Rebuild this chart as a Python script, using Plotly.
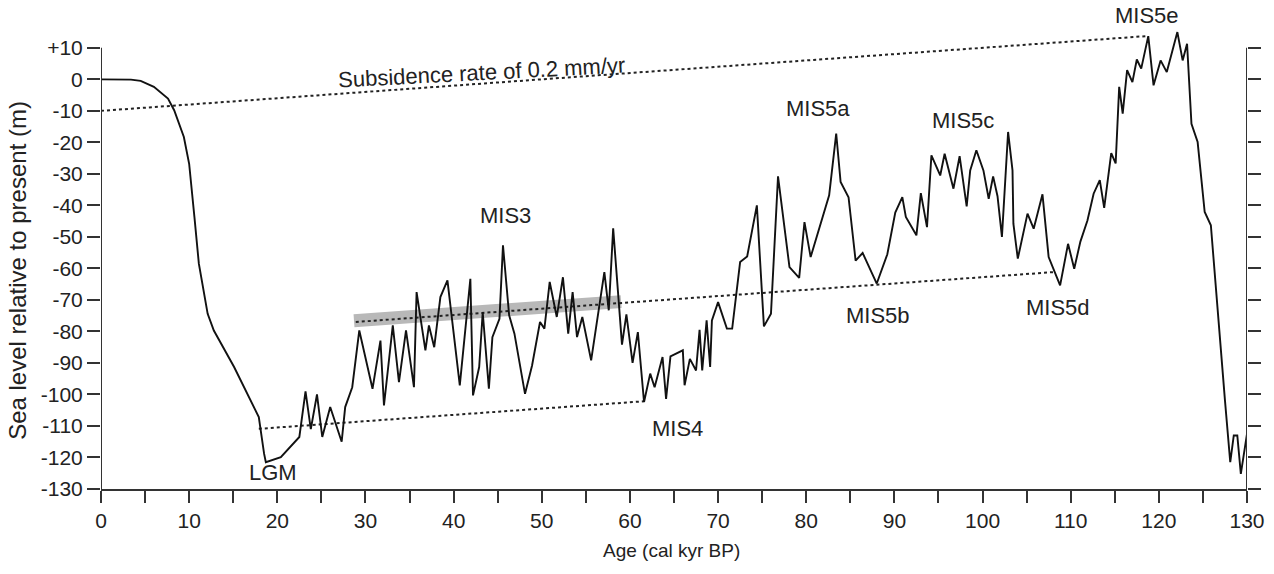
import plotly.graph_objects as go

# Relative sea level reconstruction (cal kyr BP vs. metres relative to present)
age_kyr = [
    0, 2, 3.4, 4.5, 6.0, 7.6, 8.3, 9.4, 10.0, 10.6, 11.1, 12.1, 12.8, 15.1, 16.6,
    17.9, 18.5, 18.7, 20.4, 22.5, 23.2, 23.8, 24.5, 25.1, 26.0, 27.3, 27.7, 28.5,
    29.3, 30.8, 31.7, 32.1, 33.1, 33.8, 34.6, 35.5, 35.8, 36.8, 37.2, 37.8, 38.5,
    39.3, 40.7, 41.9, 42.2, 42.9, 43.3, 44.0, 44.4, 45.2, 45.6, 46.3, 46.9, 48.1,
    48.9, 49.8, 50.3, 50.9, 51.7, 52.4, 53.0, 53.5, 54.0, 54.6, 55.6, 57.1, 57.6,
    58.1, 59.1, 59.6, 60.3, 60.9, 61.6, 62.3, 62.8, 63.7, 64.1, 64.6, 66.0, 66.2,
    66.8, 67.5, 67.9, 68.2, 68.7, 69.1, 69.3, 70.0, 71.0, 71.6, 72.5, 73.3, 74.4,
    75.2, 76.0, 76.8, 78.1, 79.2, 79.8, 80.5, 82.6, 83.4, 83.9, 84.8, 85.6, 86.4,
    88.0, 89.2, 90.1, 90.9, 91.3, 92.5, 93.0, 93.7, 94.2, 95.2, 95.7, 96.7, 97.4,
    98.2, 98.6, 99.3, 100.1, 100.7, 101.2, 101.7, 102.2, 102.9, 103.4, 103.5, 104.0,
    105.1, 105.8, 106.8, 107.5, 108.8, 109.7, 110.4, 111.1, 111.9, 112.6, 113.3,
    113.8, 114.6, 115.1, 115.5, 115.9, 116.4, 117.0, 117.5, 118.0, 118.8, 119.4,
    120.2, 120.9, 122.1, 122.7, 123.2, 123.7, 124.4, 125.2, 125.9, 127.5, 128.1,
    128.5, 128.9, 129.3, 130.0,
]
sea_level_m = [
    0, 0, -0.1, -0.5, -2.4, -6.1, -9.8, -18.3, -26.8, -43.7, -58.5, -74.4, -79.7,
    -91.3, -100, -107.2, -118.8, -121.5, -119.9, -113.5, -99, -111, -100, -113.5,
    -104, -115, -104, -97.7, -79.7, -98.2, -82.9, -103.5, -78.1, -96.1, -79.7,
    -97.7, -67.5, -86, -78.1, -85, -69.1, -63.8, -97.1, -63.3, -100.3, -91.3,
    -73.9, -98.2, -81.8, -76, -52.7, -74.9, -80.7, -99.8, -90.8, -77, -79.1,
    -64.3, -75.4, -62.8, -80.7, -67.5, -81.8, -75.4, -89.2, -61.2, -73.3, -47.3,
    -84.2, -74.6, -90, -80.2, -102.4, -93.4, -97.7, -88.1, -101.4, -87.9, -86,
    -97.1, -88.7, -92.4, -79.5, -92.4, -76.5, -91.3, -76.5, -70.7, -79.1, -79.1,
    -58, -56.2, -40, -78.4, -74.4, -30.8, -59.6, -63, -45.3, -56.4, -36.8, -17.2,
    -32.6, -37.4, -57.5, -55.1, -64.8, -55.5, -42.3, -37.4, -43.7, -49.5, -36.1,
    -46.9, -24.1, -30.5, -23.6, -34.7, -24.4, -40.3, -28.9, -22.5, -28.9, -37.9,
    -30.8, -37.1, -50, -16.7, -28.9, -45.8, -56.9, -42.6, -47.4, -36.5, -56.4,
    -65.4, -52.2, -60.1, -51.5, -44.8, -36.3, -32, -40.8, -23.4, -26.7, -2.4,
    -10.9, 2.9, -0.9, 6.3, 3.4, 13.7, -1.9, 6, 2.3, 15, 6, 11.3, -14.1, -19.9,
    -42.1, -46.3, -101.9, -121.5, -113, -113, -125.2, -112.5,
]

# Subsidence reference lines (0.2 m per kyr)
subsidence_age = [0, 118.8]
subsidence_level = [-10, 13.76]
lgm_trend_age = [17.9, 61.6]
lgm_trend_level = [-110.9, -102.16]
mis3_trend_age = [28.9, 108.3]
mis3_trend_level = [-77.0, -61.12]
# Shaded MIS3 envelope
mis3_band_age = [28.7, 59.0]
mis3_band_level = [-76.6, -70.54]

# Stage labels
stage_labels = ["LGM", "MIS3", "MIS4", "MIS5a", "MIS5b", "MIS5c", "MIS5d", "MIS5e"]
stage_age = [19.5, 45.9, 65.4, 81.3, 88.1, 97.8, 108.6, 118.7]
stage_level = [-124.7, -43.1, -110.7, -9.2, -74.9, -13.0, -72.3, 20.3]

x_ticks = list(range(0, 131, 5))
x_tick_text = [str(v) if v % 10 == 0 else "" for v in x_ticks]
y_ticks = list(range(-130, 11, 10))
y_tick_text = ["+10" if v == 10 else str(v) for v in y_ticks]

INK = "#222222"
AXIS = "#333333"
FONT = "Liberation Sans, Arial, sans-serif"
DOTS = "3px,3px"

fig = go.Figure()

fig.add_trace(go.Scatter(
    x=mis3_band_age, y=mis3_band_level, mode="lines",
    line=dict(color="#b8b8b8", width=13), hoverinfo="skip", showlegend=False,
))
for xs, ys in [(subsidence_age, subsidence_level),
               (lgm_trend_age, lgm_trend_level),
               (mis3_trend_age, mis3_trend_level)]:
    fig.add_trace(go.Scatter(
        x=xs, y=ys, mode="lines",
        line=dict(color=INK, width=2, dash=DOTS), hoverinfo="skip", showlegend=False,
    ))

fig.add_trace(go.Scatter(
    x=age_kyr, y=sea_level_m, mode="lines",
    line=dict(color="#111111", width=1.9), showlegend=False,
    cliponaxis=False,
))

# Carrier for the right-hand tick axis
fig.add_trace(go.Scatter(
    x=[0, 130], y=[-130, 10], mode="markers", marker=dict(opacity=0),
    yaxis="y2", hoverinfo="skip", showlegend=False,
))

annotations = []
for name, ax_, ay_ in zip(stage_labels, stage_age, stage_level):
    annotations.append(dict(
        x=ax_, y=ay_, xref="x", yref="y", text=name, showarrow=False,
        xanchor="center", yanchor="middle",
        font=dict(family=FONT, size=22, color=INK),
    ))
annotations.append(dict(
    x=43.2, y=2.2, xref="x", yref="y", text="Subsidence rate of 0.2 mm/yr",
    showarrow=False, textangle=-3, xanchor="center", yanchor="middle",
    font=dict(family=FONT, size=22, color=INK),
))
annotations.append(dict(
    x=0.498, y=-0.129, xref="paper", yref="paper", text="Age (cal kyr BP)",
    showarrow=False, xanchor="center", yanchor="middle",
    font=dict(family=FONT, size=19, color=INK),
))
annotations.append(dict(
    x=-0.0735, y=0.457, xref="paper", yref="paper",
    text="Sea level relative to present (m)", textangle=-90,
    showarrow=False, xanchor="center", yanchor="middle",
    font=dict(family=FONT, size=24, color=INK),
))

shapes = [
    dict(type="line", xref="x", yref="y", x0=0, x1=0, y0=-130, y1=10,
         line=dict(color=AXIS, width=2)),
    dict(type="line", xref="x", yref="y", x0=130, x1=130, y0=-130, y1=10,
         line=dict(color=AXIS, width=2)),
]

y_range = [-130, 22]

fig.update_layout(
    width=1274, height=574,
    margin=dict(l=101, r=27, t=10, b=85),
    paper_bgcolor="white", plot_bgcolor="white",
    font=dict(family=FONT, color=INK),
    annotations=annotations, shapes=shapes,
    xaxis=dict(
        range=[0, 130], tickvals=x_ticks, ticktext=x_tick_text,
        ticks="outside", ticklen=12, tickwidth=1.5, tickcolor=AXIS,
        showline=True, linecolor=AXIS, linewidth=2,
        showgrid=False, zeroline=False,
        tickfont=dict(family=FONT, size=21, color=INK),
    ),
    yaxis=dict(
        range=y_range, tickvals=y_ticks, ticktext=y_tick_text,
        ticks="outside", ticklen=13, tickwidth=1.5, tickcolor=AXIS,
        showline=False, showgrid=False, zeroline=False,
        tickfont=dict(family=FONT, size=21, color=INK),
    ),
    yaxis2=dict(
        range=y_range, tickvals=y_ticks, overlaying="y", side="right",
        ticks="outside", ticklen=13, tickwidth=1.5, tickcolor=AXIS,
        showticklabels=False, showline=False, showgrid=False, zeroline=False,
    ),
)

fig.write_html("out.html")
